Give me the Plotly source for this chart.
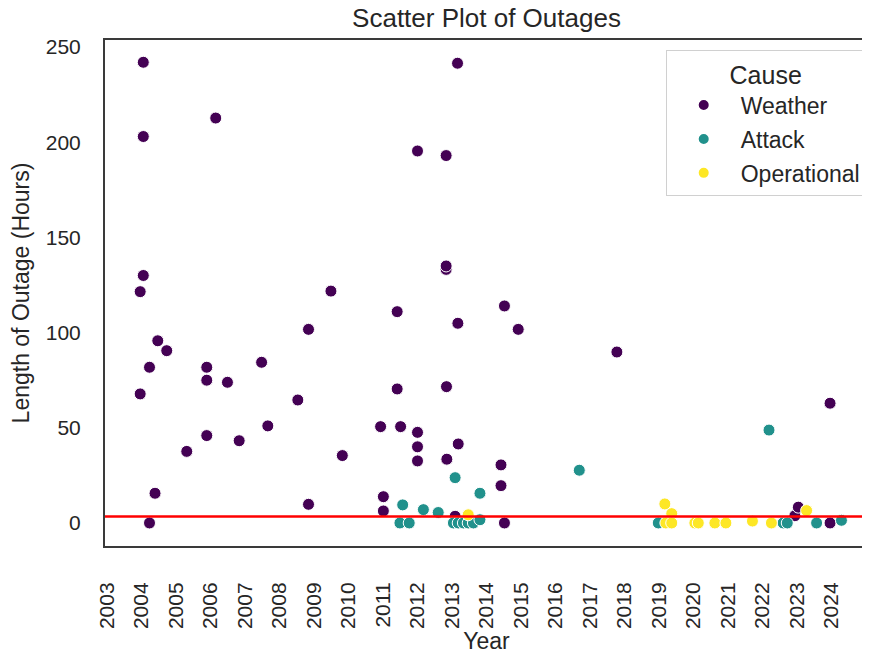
import plotly.graph_objects as go

# ---- data ----
weather_year = [2004.05, 2006.15, 2004.05, 2004.05, 2003.96, 2004.47, 2004.73, 2004.23, 2005.89, 2005.89,
                2006.49, 2007.48, 2003.96, 2008.53, 2007.66, 2005.89, 2006.83, 2005.31, 2004.39, 2004.23,
                2009.49, 2011.41, 2008.84, 2014.52, 2013.17, 2014.92, 2011.41, 2012.84, 2010.93, 2011.51,
                2012.0, 2012.0, 2013.18, 2012.0, 2012.85, 2009.82, 2014.42, 2014.42, 2008.84, 2011.01,
                2011.01, 2013.09, 2014.52, 2013.16, 2012.0, 2012.83, 2012.83, 2012.83, 2017.78, 2023.96,
                2022.94, 2023.04, 2023.96]
weather_hours = [242, 212.7, 203, 130, 121.5, 95.7, 90.5, 81.8, 81.8, 75,
                 73.9, 84.4, 67.8, 64.6, 51, 45.9, 43.2, 37.6, 15.6, 0,
                 121.8, 111, 101.7, 114, 104.9, 101.7, 70.4, 71.6, 50.6, 50.6,
                 47.6, 40, 41.5, 32.6, 33.5, 35.4, 30.5, 19.6, 9.8, 13.8,
                 6.3, 3.5, 0, 241.5, 195.4, 193, 133.2, 135, 89.8, 62.9,
                 3.8, 8.3, 0]

attack_year = [2013.09, 2013.81, 2011.57, 2012.17, 2012.6, 2011.49, 2011.76, 2013.04, 2013.18, 2013.33,
               2013.47, 2013.62, 2013.81, 2016.69, 2022.19, 2018.98, 2022.6, 2022.72, 2023.57, 2024.29]
attack_hours = [23.8, 15.6, 9.5, 7, 5.5, 0, 0, 0, 0, 0,
                0, 0, 1.7, 27.7, 48.8, 0, 0, 0, 0, 1.4]

oper_year = [2013.47, 2019.17, 2019.37, 2019.2, 2019.37, 2020.04, 2020.14, 2020.62, 2020.94, 2021.71,
             2022.26, 2023.28]
oper_hours = [4.3, 10, 4.9, 0, 0, 0, 0, 0, 0, 1,
              0, 6.5]

causes = ["Weather", "Attack", "Operational"]
colors = {"Weather": "#440154", "Attack": "#21918c", "Operational": "#fde725"}
series = {"Weather": (weather_year, weather_hours),
          "Attack": (attack_year, attack_hours),
          "Operational": (oper_year, oper_hours)}

year_ticks = list(range(2003, 2025))
THRESHOLD = 3.4

FONT = "Liberation Sans, Arial, sans-serif"
TXT = "#262626"

# page body has an 8px default margin, so the figure is made 8px smaller
W, H = 862, 646

fig = go.Figure()
for i, c in enumerate(causes):
    xs, ys = series[c]
    fig.add_trace(go.Scatter(
        x=xs, y=ys, mode="markers", name=c, legendgroup=c,
        marker=dict(size=12, color=colors[c], line=dict(color="white", width=1)),
    ))

fig.add_hline(y=THRESHOLD, line=dict(color="red", width=2.5), layer="above")

fig.update_layout(
    width=W, height=H,
    margin=dict(l=97, r=2, t=32, b=108),
    paper_bgcolor="white", plot_bgcolor="white",
    font=dict(family=FONT, color=TXT),
    title=dict(text="Scatter Plot of Outages", x=0.5, xref="paper", xanchor="center",
               y=1 - 10 / H, yref="container", yanchor="middle",
               font=dict(size=26, color=TXT)),
    showlegend=True,
    legend=dict(
        title=dict(text="Cause", side="top center", font=dict(size=25, color=TXT)),
        font=dict(size=23, color=TXT),
        x=0.997, xanchor="right", y=0.98, yanchor="top",
        bordercolor="#d0d0d0", borderwidth=1, bgcolor="rgba(255,255,255,0.8)",
        tracegroupgap=1, itemsizing="constant", itemwidth=64,
    ),
    xaxis=dict(
        range=[2002.94, 2025.06], tickmode="array", tickvals=year_ticks,
        ticktext=[str(y) for y in year_ticks], tickangle=-90,
        tickfont=dict(size=21, color=TXT), ticklabelstandoff=26,
        showgrid=False, zeroline=False, showline=True, mirror=True,
        linecolor="#3a3a3a", linewidth=2, ticks="", automargin=False,
        title=dict(text="Year", font=dict(size=23, color=TXT), standoff=4),
    ),
    yaxis=dict(
        range=[-12.1, 253.7], tickmode="array", tickvals=[0, 50, 100, 150, 200, 250],
        tickfont=dict(size=21, color=TXT), ticklabelstandoff=18,
        showgrid=False, zeroline=False, showline=True, mirror=True,
        linecolor="#3a3a3a", linewidth=2, ticks="", automargin=False,
        title=dict(text="Length of Outage (Hours)", font=dict(size=23, color=TXT), standoff=12),
    ),
)

fig.write_html("out.html")
